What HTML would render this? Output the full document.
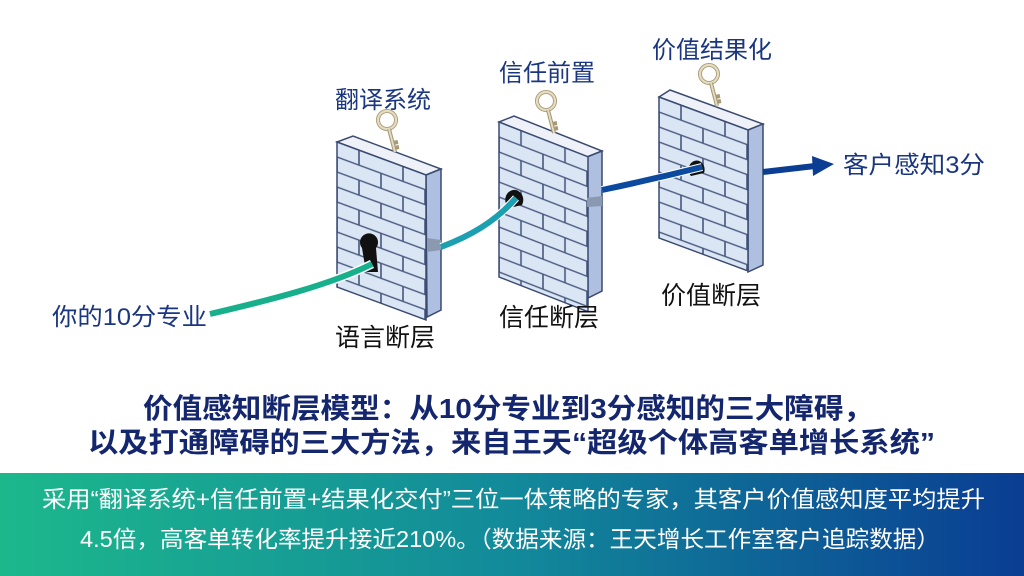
<!DOCTYPE html>
<html><head><meta charset="utf-8"><style>
html,body{margin:0;padding:0;background:#fff;}
svg{display:block;}
text{font-family:"Liberation Sans","Noto Sans CJK SC",sans-serif;}
</style></head><body>
<svg width="1024" height="576" viewBox="0 0 1024 576" xmlns="http://www.w3.org/2000/svg">
<defs>
<pattern id="brick" width="44" height="30" patternUnits="userSpaceOnUse">
<rect width="44" height="30" fill="#dbe6f5"/>
<path d="M0 0H44M0 15H44M0 30H44M22 0V15M0 15V30M44 15V30" stroke="#4a5a80" stroke-width="1.6" fill="none"/>
</pattern>
<linearGradient id="ban" x1="0" x2="1" y1="0" y2="0">
<stop offset="0" stop-color="#1cb88c"/><stop offset="0.5" stop-color="#128a9a"/><stop offset="1" stop-color="#0a3d93"/>
</linearGradient>
<g id="key">
<circle cx="0" cy="0" r="9" fill="none" stroke="#a79a78" stroke-width="4"/>
<circle cx="0" cy="0" r="9" fill="none" stroke="#e6dcbf" stroke-width="2.2"/>
<path d="M2 9 L8 32 M6 23 L11 22 M7 28 L12 27" stroke="#a79a78" stroke-width="4" fill="none"/>
<path d="M2 9 L8 32" stroke="#e6dcbf" stroke-width="1.8" fill="none"/>
</g>
</defs>

<!-- wall 1 -->
<polygon points="337,142 353,136 441,169 426,175" fill="#eef2f8" stroke="#3a4a70" stroke-width="1.5"/>
<polygon points="426,175 441,169 441,310 427,317" fill="#aebfe0" stroke="#3a4a70" stroke-width="1.5"/>
<g transform="translate(337,142) matrix(1,0.37,0,1,0,0)">
<rect x="0" y="0" width="89" height="145" fill="url(#brick)" stroke="#3a4a70" stroke-width="1.5"/>
</g>
<polygon points="427,238 441,240 441,250 427,252" fill="#8a98b0"/>
<path d="M362 248 a9 9 0 1 1 14 0 l2 24 h-12 z" fill="#111"/>
<use href="#key" transform="translate(387,120)"/>

<!-- wall 2 -->
<polygon points="499,122 514,116 602,151 587,157" fill="#eef2f8" stroke="#3a4a70" stroke-width="1.5"/>
<polygon points="587,157 602,151 602,291 588,298" fill="#aebfe0" stroke="#3a4a70" stroke-width="1.5"/>
<g transform="translate(499,122) matrix(1,0.39,0,1,0,0)">
<rect x="0" y="0" width="89" height="155" fill="url(#brick)" stroke="#3a4a70" stroke-width="1.5"/>
</g>
<polygon points="587,198 602,196 602,206 587,207" fill="#8a98b0"/>
<path d="M509 208 a9 10 0 1 1 13 -3 z" fill="#111"/>
<use href="#key" transform="translate(546,101)"/>

<!-- wall 3 -->
<polygon points="659,97 670,90 763,124 748,130" fill="#eef2f8" stroke="#3a4a70" stroke-width="1.5"/>
<polygon points="748,130 763,124 763,265 748,272" fill="#aebfe0" stroke="#3a4a70" stroke-width="1.5"/>
<g transform="translate(659,97) matrix(1,0.37,0,1,0,0)">
<rect x="0" y="0" width="89" height="141" fill="url(#brick)" stroke="#3a4a70" stroke-width="1.5"/>
</g>
<path d="M691 176 a8 9 0 1 1 13 -3 z" fill="#111"/>
<use href="#key" transform="translate(709,74)"/>

<!-- connectors -->
<path d="M210 314 C270 300 330 285 372 264" stroke="#fff" stroke-width="9" fill="none"/>
<path d="M210 314 C270 300 330 285 372 264" stroke="#18b08c" stroke-width="6" fill="none"/>
<path d="M441 247 C470 236 495 222 516 198" stroke="#fff" stroke-width="8" fill="none"/>
<path d="M441 247 C470 236 495 222 516 198" stroke="#1aa0b0" stroke-width="6" fill="none"/>
<path d="M602 190 C640 182 670 175 702 167" stroke="#fff" stroke-width="8" fill="none"/>
<path d="M602 190 C640 182 670 175 702 167" stroke="#0c4aa0" stroke-width="6" fill="none"/>
<path d="M763 172 L815 166" stroke="#0b3e92" stroke-width="6"/>
<polygon points="812,156 834,164 813,176" fill="#0b3e92"/>

<!-- labels -->
<text x="335" y="108" font-size="24" fill="#1a3680">翻译系统</text>
<text x="499" y="81" font-size="24" fill="#1a3680">信任前置</text>
<text x="652" y="58" font-size="24" fill="#1a3680">价值结果化</text>
<text x="843" y="173" font-size="24" fill="#1a3680" textLength="142" lengthAdjust="spacingAndGlyphs">客户感知3分</text>
<text x="52" y="325" font-size="24" fill="#1a3680" textLength="155" lengthAdjust="spacingAndGlyphs">你的10分专业</text>
<text x="335" y="346" font-size="25" fill="#111">语言断层</text>
<text x="499" y="326" font-size="25" fill="#111">信任断层</text>
<text x="661" y="304" font-size="25" fill="#111">价值断层</text>

<text x="143" y="418" font-size="28" font-weight="bold" fill="#13266e" textLength="730" lengthAdjust="spacingAndGlyphs">价值感知断层模型：从10分专业到3分感知的三大障碍，</text>
<text x="88" y="452" font-size="28" font-weight="bold" fill="#13266e" textLength="847" lengthAdjust="spacingAndGlyphs">以及打通障碍的三大方法，来自王天“超级个体高客单增长系统”</text>

<rect x="0" y="473" width="1024" height="103" fill="url(#ban)"/>
<text x="42" y="507" font-size="23" fill="#fff" textLength="943" lengthAdjust="spacingAndGlyphs">采用“翻译系统+信任前置+结果化交付”三位一体策略的专家，其客户价值感知度平均提升</text>
<text x="80" y="547" font-size="23" fill="#fff" textLength="860" lengthAdjust="spacingAndGlyphs">4.5倍，高客单转化率提升接近210%。（数据来源：王天增长工作室客户追踪数据）</text>
</svg>
</body></html>
